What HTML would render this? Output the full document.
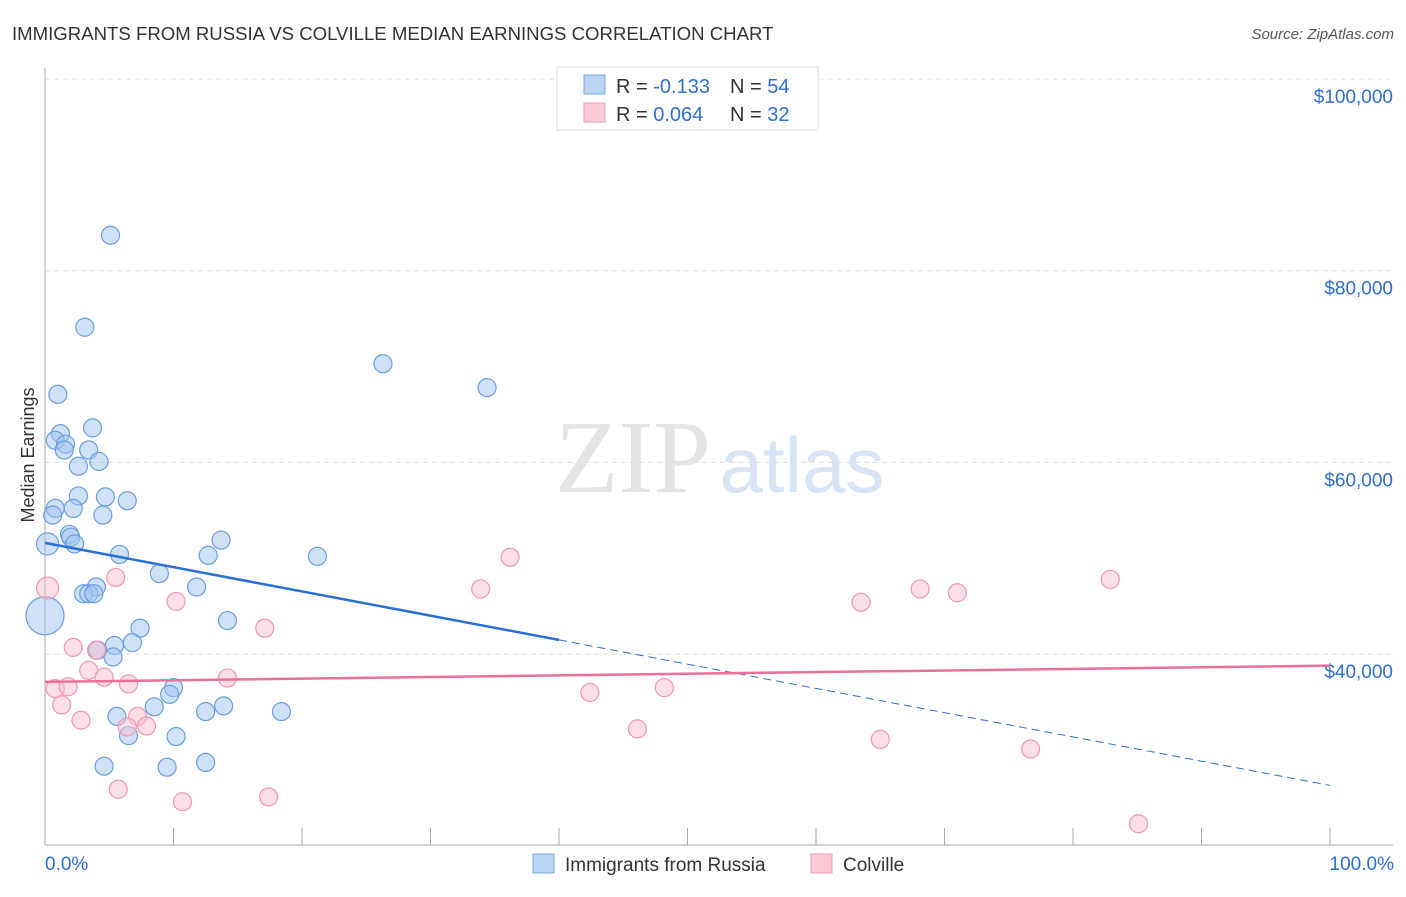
<!DOCTYPE html>
<html><head><meta charset="utf-8"><style>
body{margin:0;background:#fff;font-family:"Liberation Sans",sans-serif}
svg text{font-family:"Liberation Sans",sans-serif}
</style></head><body>
<svg id="chart" width="1406" height="892" viewBox="0 0 1406 892" xmlns="http://www.w3.org/2000/svg">
<text x="12" y="40" font-size="18.6" fill="#333">IMMIGRANTS FROM RUSSIA VS COLVILLE MEDIAN EARNINGS CORRELATION CHART</text>
<text x="1394" y="39" font-size="15" fill="#555" font-style="italic" text-anchor="end">Source: ZipAtlas.com</text>
<g>
<text x="633" y="492" font-size="104" fill="#e4e4e4" text-anchor="middle" font-family="Liberation Serif" style="font-family:'Liberation Serif',serif">ZIP</text>
<text x="802" y="492" font-size="78" fill="#d6e4f5" text-anchor="middle">atlas</text>
</g>
<g id="grid"></g>
<g id="axes"></g>
<g id="marks"></g>
<text x="34" y="455" font-size="18" fill="#333" text-anchor="middle" transform="rotate(-90 34 455)">Median Earnings</text>
<g>
<rect x="557" y="67" width="261" height="63" fill="#fff" stroke="#ddd"/>
<rect x="584" y="75" width="21" height="19" fill="#bcd4f4" stroke="#7aa6e0"/>
<rect x="584" y="103" width="21" height="19" fill="#fbcad7" stroke="#ee9ab2"/>
<text x="616" y="93" font-size="20" fill="#333">R = <tspan fill="#2f6fd0">-0.133</tspan></text>
<text x="730" y="93" font-size="20" fill="#333">N = <tspan fill="#2f6fd0">54</tspan></text>
<text x="616" y="121" font-size="20" fill="#333">R = <tspan fill="#2f6fd0">0.064</tspan></text>
<text x="730" y="121" font-size="20" fill="#333">N = <tspan fill="#2f6fd0">32</tspan></text>
</g>
<g>
<rect x="533" y="854" width="21" height="19" fill="#bcd4f4" stroke="#7aa6e0"/>
<text x="565" y="871" font-size="19" fill="#333">Immigrants from Russia</text>
<rect x="811" y="854" width="21" height="19" fill="#fbcad7" stroke="#ee9ab2"/>
<text x="843" y="871" font-size="19" fill="#333">Colville</text>
</g>
</svg>
<script>
const yTicks=[40000,60000,80000,100000];
const yTickLabels=["$40,000","$60,000","$80,000","$100,000"];
const xEndLabels=["0.0%","100.0%"];
const blueX=[5.1,3.1,26.3,34.4,1.0,3.7,1.2,0.8,1.6,1.5,3.4,4.2,2.6,2.6,4.7,6.4,0.8,2.2,4.5,0.6,1.9,2.0,2.3,0.2,5.8,12.7,13.7,21.2,8.9,11.8,4.0,3.0,3.4,3.8,14.2,7.4,5.4,4.1,6.8,5.3,0,10.0,9.7,8.5,12.5,13.9,18.4,5.6,6.5,10.2,4.6,9.5,12.5];
const blueY=[83700,74100,70300,67800,67100,63600,63000,62300,61900,61300,61300,60100,59600,56500,56400,56000,55200,55200,54500,54500,52500,52200,51500,51500,50400,50300,51900,50200,48400,47000,47000,46300,46300,46300,43500,42700,40900,40400,41200,39700,44000,36500,35800,34500,34000,34600,34000,33500,31500,31400,28300,28200,28700];
const blueR=[9,9,9,9,9,9,9,9,9,9,9,9,9,9,9,9,9,9,9,9,9,9,9,11,9,9,9,9,9,9,9,9,9,9,9,9,9,9,9,9,19,9,9,9,9,9,9,9,9,9,9,9,9];
const pinkX=[0.2,5.5,10.2,36.2,33.9,17.1,2.2,4.0,3.4,4.6,6.5,14.2,0.8,1.8,1.3,2.8,7.2,6.4,7.9,42.4,48.2,46.1,63.5,68.1,71.0,82.9,65.0,76.7,5.7,10.7,17.4,85.1];
const pinkY=[46900,48000,45500,50100,46800,42700,40700,40400,38300,37600,36900,37500,36400,36600,34700,33100,33500,32400,32500,36000,36500,32200,45400,46800,46400,47800,31100,30100,25900,24600,25100,22300];
const blueTrend=[51600,26300];
const blueSolidEnd=40;
const pinkTrend=[37100,38800];
const NS="http://www.w3.org/2000/svg";
const X0=45,X1=1330,Y100=79,PXPER=191.7/20000;
function xs(p){return X0+(X1-X0)*p/100;}
function ys(v){return Y100+(100000-v)*PXPER;}
function mk(tag,attrs,parent){const e=document.createElementNS(NS,tag);for(const k in attrs)e.setAttribute(k,attrs[k]);parent.appendChild(e);return e;}
const grid=document.getElementById('grid'),axes=document.getElementById('axes'),marks=document.getElementById('marks');
yTicks.forEach((t,i)=>{
 const l=mk('line',{x1:X0,x2:1393,y1:ys(t),y2:ys(t),stroke:'#ddd','stroke-dasharray':'5,4'},grid);
 
 
 const tx=mk('text',{x:1393,y:ys(t)+24,'font-size':19,fill:'#2f6fd0','text-anchor':'end'},axes);
 tx.textContent=yTickLabels[i];
 
 
});
let a=mk('line',{x1:X0,x2:X0,y1:68,y2:845,stroke:'#aaa'},axes);


a=mk('line',{x1:X0,x2:1393,y1:845,y2:845,stroke:'#aaa'},axes);


for(let i=1;i<=10;i++){const t=mk('line',{x1:xs(i*10),x2:xs(i*10),y1:828,y2:845,stroke:'#aaa'},axes);
 
 }
[[0,'start',45],[100,'end',1394]].forEach((d,i)=>{const t=mk('text',{x:d[2],y:870,'font-size':19,fill:'#2f6fd0','text-anchor':d[1]},axes);t.textContent=xEndLabels[i];
 
 });
blueX.forEach((x,i)=>{const c=mk('circle',{cx:xs(x),cy:ys(blueY[i]),r:blueR[i],fill:'rgba(160,196,240,0.5)',stroke:'#6a9ee0','stroke-width':1.2},marks);
 
 });
pinkX.forEach((x,i)=>{const c=mk('circle',{cx:xs(x),cy:ys(pinkY[i]),r:i==0?11:9,fill:'rgba(250,190,206,0.5)',stroke:'#ee99b2','stroke-width':1.2},marks);
 
 });
function bt(p){return blueTrend[0]+(blueTrend[1]-blueTrend[0])*p/100;}
let l=mk('line',{x1:xs(0),y1:ys(bt(0)),x2:xs(blueSolidEnd),y2:ys(bt(blueSolidEnd)),stroke:'#2a6fd6','stroke-width':2.5},marks);


l=mk('line',{x1:xs(blueSolidEnd),y1:ys(bt(blueSolidEnd)),x2:xs(100),y2:ys(bt(100)),stroke:'#2a6fd6','stroke-width':1,'stroke-dasharray':'8,5'},marks);


l=mk('line',{x1:xs(0),y1:ys(pinkTrend[0]),x2:xs(100),y2:ys(pinkTrend[1]),stroke:'#e8709a','stroke-width':2.5},marks);


</script>
</body></html>
